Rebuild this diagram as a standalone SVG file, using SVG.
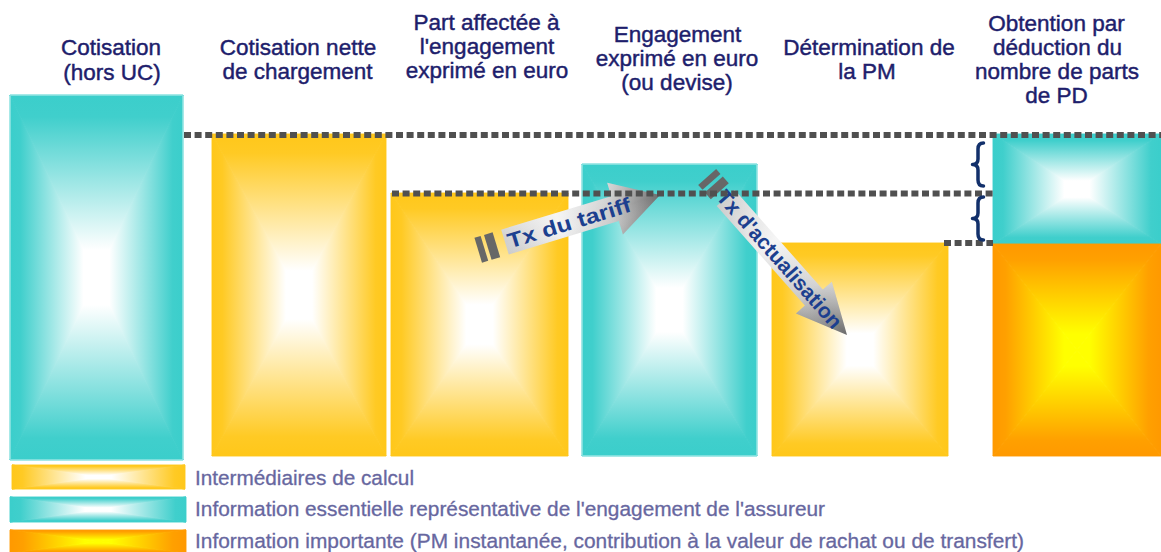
<svg xmlns="http://www.w3.org/2000/svg" xmlns:xlink="http://www.w3.org/1999/xlink" width="1161" height="552" viewBox="0 0 1161 552">
  <style>
    .title { font-family: "Liberation Sans", Arial, sans-serif; font-size: 22.5px; fill: #1e1e6c; stroke: #1e1e6c; stroke-width: 0.45; text-anchor: middle; }
    .legend { font-family: "Liberation Sans", Arial, sans-serif; font-size: 20.5px; fill: #67679f; stroke: #67679f; stroke-width: 0.3; }
    .arrowtxt { font-family: "Liberation Sans", Arial, sans-serif; font-size: 21px; font-weight: bold; fill: #1c3f8f; }
    .guide { fill: none; stroke: #505050; stroke-width: 6; stroke-dasharray: 7 3.6; }
    .brace { fill: none; stroke: #12306b; stroke-width: 3.5; stroke-linecap: round; stroke-linejoin: round; }
    .edge { fill: none; stroke: #ffffff; stroke-opacity: 0.35; stroke-width: 1; }
    polygon { stroke-width: 0.9; stroke-linejoin: round; }
    .tT { fill: url(#tealT); stroke: url(#tealT); } .tB { fill: url(#tealB); stroke: url(#tealB); }
    .tL { fill: url(#tealL); stroke: url(#tealL); } .tR { fill: url(#tealR); stroke: url(#tealR); }
    .yT { fill: url(#yelT); stroke: url(#yelT); } .yB { fill: url(#yelB); stroke: url(#yelB); }
    .yL { fill: url(#yelL); stroke: url(#yelL); } .yR { fill: url(#yelR); stroke: url(#yelR); }
    .oT { fill: url(#orgT); stroke: url(#orgT); } .oB { fill: url(#orgB); stroke: url(#orgB); }
    .oL { fill: url(#orgL); stroke: url(#orgL); } .oR { fill: url(#orgR); stroke: url(#orgR); }
    .stripe { fill: #676767; }
    .shaft { fill: url(#metal); }
    .sheen { fill: url(#sheen); }
  </style>
  <defs>
    <!-- colour ramps: edge colour towards the centre of each box -->
    <linearGradient id="teal">
      <stop offset="0" stop-color="#3bcecb"/>
      <stop offset="0.12" stop-color="#40cfcc"/>
      <stop offset="0.85" stop-color="#ffffff"/>
      <stop offset="1" stop-color="#ffffff"/>
    </linearGradient>
    <linearGradient id="yel">
      <stop offset="0" stop-color="#ffc71a"/>
      <stop offset="0.12" stop-color="#ffca24"/>
      <stop offset="0.85" stop-color="#ffffff"/>
      <stop offset="1" stop-color="#ffffff"/>
    </linearGradient>
    <linearGradient id="org">
      <stop offset="0" stop-color="#ff9900"/>
      <stop offset="0.15" stop-color="#ffa000"/>
      <stop offset="0.85" stop-color="#ffff00"/>
      <stop offset="1" stop-color="#ffff00"/>
    </linearGradient>
    <!-- per-side directions (each triangle runs from its edge to the centre) -->
    <linearGradient id="tealT" xlink:href="#teal" x1="0" y1="0" x2="0" y2="1"/>
    <linearGradient id="tealB" xlink:href="#teal" x1="0" y1="1" x2="0" y2="0"/>
    <linearGradient id="tealL" xlink:href="#teal" x1="0" y1="0" x2="1" y2="0"/>
    <linearGradient id="tealR" xlink:href="#teal" x1="1" y1="0" x2="0" y2="0"/>
    <linearGradient id="yelT" xlink:href="#yel" x1="0" y1="0" x2="0" y2="1"/>
    <linearGradient id="yelB" xlink:href="#yel" x1="0" y1="1" x2="0" y2="0"/>
    <linearGradient id="yelL" xlink:href="#yel" x1="0" y1="0" x2="1" y2="0"/>
    <linearGradient id="yelR" xlink:href="#yel" x1="1" y1="0" x2="0" y2="0"/>
    <linearGradient id="orgT" xlink:href="#org" x1="0" y1="0" x2="0" y2="1"/>
    <linearGradient id="orgB" xlink:href="#org" x1="0" y1="1" x2="0" y2="0"/>
    <linearGradient id="orgL" xlink:href="#org" x1="0" y1="0" x2="1" y2="0"/>
    <linearGradient id="orgR" xlink:href="#org" x1="1" y1="0" x2="0" y2="0"/>
    <!-- metallic block arrows -->
    <linearGradient id="metal" x1="0" y1="0" x2="1" y2="0">
      <stop offset="0" stop-color="#cfcfcf"/>
      <stop offset="0.35" stop-color="#f4f4f4"/>
      <stop offset="0.68" stop-color="#cdcdcd"/>
      <stop offset="1" stop-color="#6a6a6a"/>
    </linearGradient>
    <linearGradient id="sheen" x1="0" y1="0" x2="0" y2="1">
      <stop offset="0" stop-color="#ffffff" stop-opacity="0.35"/>
      <stop offset="0.5" stop-color="#ffffff" stop-opacity="0"/>
      <stop offset="1" stop-color="#000000" stop-opacity="0.12"/>
    </linearGradient>
  </defs>

  <!-- Cotisation (hors UC) -->
  <g id="node-cotisation">
    <polygon class="tT" points="10,95 183,95 96.5,277.5"/>
    <polygon class="tB" points="10,460 183,460 96.5,277.5"/>
    <polygon class="tL" points="10,95 10,460 96.5,277.5"/>
    <polygon class="tR" points="183,95 183,460 96.5,277.5"/>
    <rect class="edge" x="10.5" y="95.5" width="172" height="364"/>
    <text class="title" x="111" y="55">Cotisation</text>
    <text class="title" x="112" y="80">(hors UC)</text>
  </g>

  <!-- Cotisation nette de chargement -->
  <g id="node-nette">
    <polygon class="yT" points="212,134 386,134 299,295"/>
    <polygon class="yB" points="212,456 386,456 299,295"/>
    <polygon class="yL" points="212,134 212,456 299,295"/>
    <polygon class="yR" points="386,134 386,456 299,295"/>
    <text class="title" x="298" y="55">Cotisation nette</text>
    <text class="title" x="297.5" y="79">de chargement</text>
  </g>

  <!-- Part affectée à l'engagement exprimé en euro -->
  <g id="node-part">
    <polygon class="yT" points="391,193 568,193 479.5,324.5"/>
    <polygon class="yB" points="391,456 568,456 479.5,324.5"/>
    <polygon class="yL" points="391,193 391,456 479.5,324.5"/>
    <polygon class="yR" points="568,193 568,456 479.5,324.5"/>
    <text class="title" x="486.5" y="30">Part affectée à</text>
    <text class="title" x="487" y="54">l'engagement</text>
    <text class="title" x="487" y="78">exprimé en euro</text>
  </g>

  <!-- Engagement exprimé en euro (ou devise) -->
  <g id="node-engagement">
    <polygon class="tT" points="582,164 757,164 669.5,310"/>
    <polygon class="tB" points="582,456 757,456 669.5,310"/>
    <polygon class="tL" points="582,164 582,456 669.5,310"/>
    <polygon class="tR" points="757,164 757,456 669.5,310"/>
    <rect class="edge" x="582.5" y="164.5" width="174" height="291"/>
    <text class="title" x="677.5" y="42">Engagement</text>
    <text class="title" x="677" y="66">exprimé en euro</text>
    <text class="title" x="677" y="90">(ou devise)</text>
  </g>

  <!-- Détermination de la PM -->
  <g id="node-pm">
    <polygon class="yT" points="772,243 948,243 860,349.5"/>
    <polygon class="yB" points="772,456 948,456 860,349.5"/>
    <polygon class="yL" points="772,243 772,456 860,349.5"/>
    <polygon class="yR" points="948,243 948,456 860,349.5"/>
    <text class="title" x="869" y="55">Détermination de</text>
    <text class="title" x="867" y="79">la PM</text>
  </g>

  <!-- Obtention par déduction du nombre de parts de PD -->
  <g id="node-obtention">
    <polygon class="tT" points="993,134 1161,134 1077,189"/>
    <polygon class="tB" points="993,244 1161,244 1077,189"/>
    <polygon class="tL" points="993,134 993,244 1077,189"/>
    <polygon class="tR" points="1161,134 1161,244 1077,189"/>
    <polygon class="oT" points="993,244 1161,244 1077,350"/>
    <polygon class="oB" points="993,456 1161,456 1077,350"/>
    <polygon class="oL" points="993,244 993,456 1077,350"/>
    <polygon class="oR" points="1161,244 1161,456 1077,350"/>
    <text class="title" x="1056.5" y="31">Obtention par</text>
    <text class="title" x="1057.5" y="55">déduction du</text>
    <text class="title" x="1057" y="79">nombre de parts</text>
    <text class="title" x="1056.5" y="103">de PD</text>
  </g>

  <!-- striped block arrows -->
  <g id="connectors">
    <g id="arrow-tarif" transform="translate(660,195) rotate(-16.9)">
      <rect class="stripe" x="-190" y="-13" width="6.5" height="26"/>
      <rect class="stripe" x="-180" y="-13" width="9" height="26"/>
      <path class="shaft" d="M-162,-13 L-47,-13 L-47,-27 L0,0 L-47,27 L-47,13 L-162,13 Z"/>
      <path class="sheen" d="M-162,-13 L-47,-13 L-47,-27 L0,0 L-47,27 L-47,13 L-162,13 Z"/>
      <text class="arrowtxt" x="-159" y="7.5" textLength="128" lengthAdjust="spacingAndGlyphs">Tx du tariff</text>
    </g>
    <g id="arrow-actualisation" transform="translate(847,335) rotate(48.5)">
      <rect class="stripe" x="-211" y="-12" width="6.5" height="24"/>
      <rect class="stripe" x="-201" y="-12" width="9" height="24"/>
      <path class="shaft" d="M-183,-12 L-50,-12 L-50,-24 L0,0 L-50,24 L-50,12 L-183,12 Z"/>
      <path class="sheen" d="M-183,-12 L-50,-12 L-50,-24 L0,0 L-50,24 L-50,12 L-183,12 Z"/>
      <text class="arrowtxt" x="-190" y="7.5" textLength="177" lengthAdjust="spacingAndGlyphs">Tx d'actualisation</text>
    </g>
  </g>

  <!-- dotted level lines -->
  <g id="guides">
    <line class="guide" x1="184" y1="135" x2="1161" y2="135"/>
    <line class="guide" x1="392" y1="193.5" x2="993" y2="193.5"/>
    <line class="guide" x1="944" y1="243" x2="993" y2="243"/>
  </g>

  <!-- braces marking the two bands -->
  <g id="braces">
    <path class="brace" d="M983.5,143 C979.5,143 978,145 978,149 L978,159 C978,162.5 976,164.5 972.5,164.5 C976,164.5 978,166.5 978,170 L978,180 C978,184 979.5,186 983.5,186"/>
    <path class="brace" d="M983.5,197 C979.5,197 978,199 978,203 L978,213 C978,216.5 976,218.5 972.5,218.5 C976,218.5 978,220.5 978,224 L978,234 C978,238 979.5,240 983.5,240"/>
  </g>

  <!-- legend -->
  <g id="legend-calcul">
    <polygon class="yT" points="12,465 185,465 98.5,477"/>
    <polygon class="yB" points="12,489 185,489 98.5,477"/>
    <polygon class="yL" points="12,465 12,489 98.5,477"/>
    <polygon class="yR" points="185,465 185,489 98.5,477"/>
    <text class="legend" x="195" y="485" textLength="219" lengthAdjust="spacingAndGlyphs">Intermédiaires de calcul</text>
  </g>
  <g id="legend-essentielle">
    <polygon class="tT" points="10,497 186,497 98,509.5"/>
    <polygon class="tB" points="10,522 186,522 98,509.5"/>
    <polygon class="tL" points="10,497 10,522 98,509.5"/>
    <polygon class="tR" points="186,497 186,522 98,509.5"/>
    <text class="legend" x="195" y="516" textLength="630" lengthAdjust="spacingAndGlyphs">Information essentielle représentative de l'engagement de l'assureur</text>
  </g>
  <g id="legend-importante">
    <polygon class="oT" points="10,530 186,530 98,541.5"/>
    <polygon class="oB" points="10,553 186,553 98,541.5"/>
    <polygon class="oL" points="10,530 10,553 98,541.5"/>
    <polygon class="oR" points="186,530 186,553 98,541.5"/>
    <text class="legend" x="195" y="548" textLength="829" lengthAdjust="spacingAndGlyphs">Information importante (PM instantanée, contribution à la valeur de rachat ou de transfert)</text>
  </g>
</svg>
